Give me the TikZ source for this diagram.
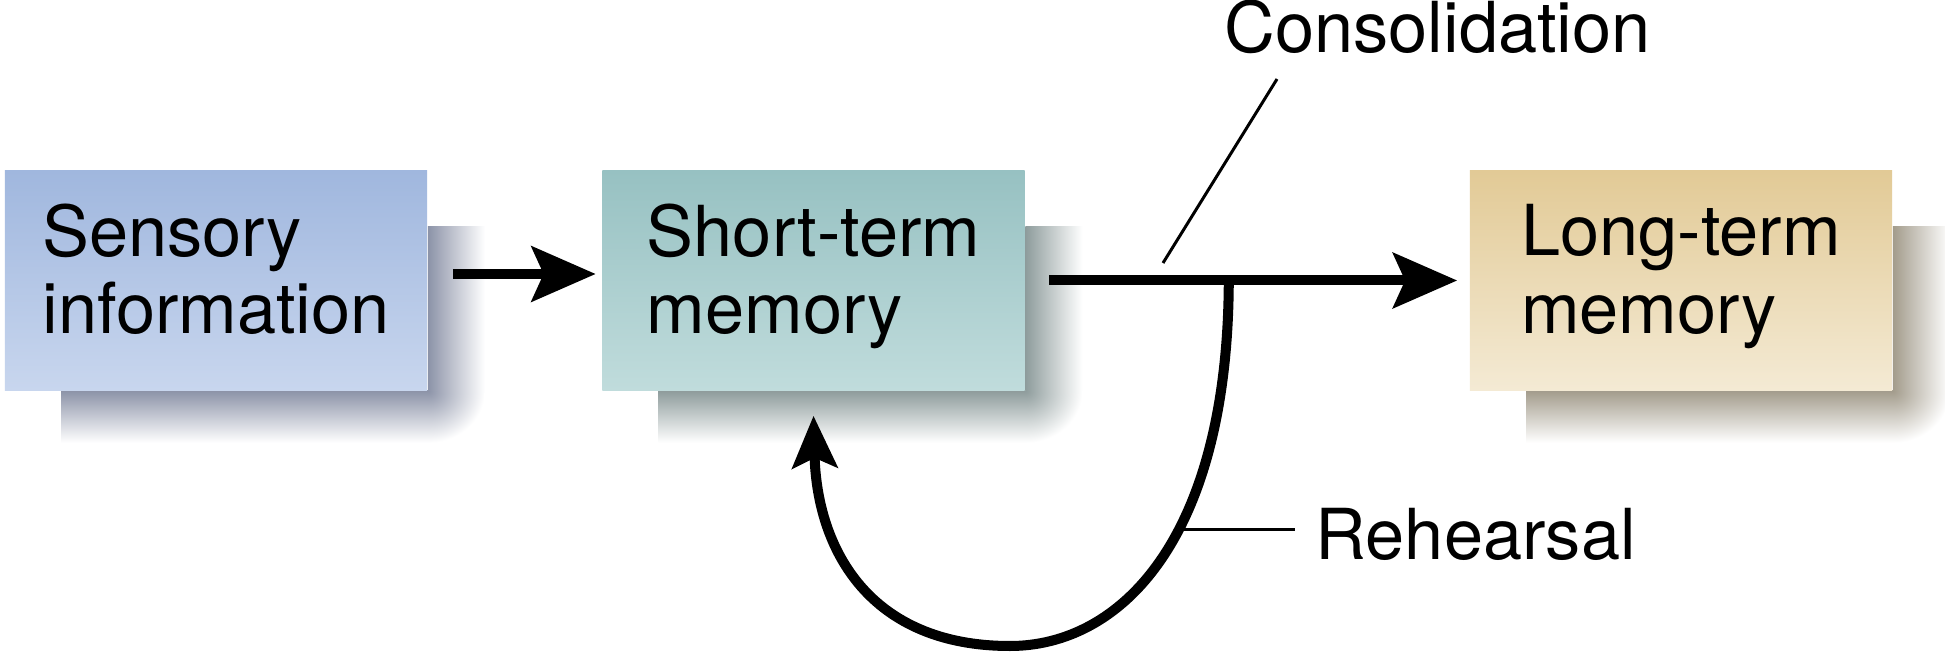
\documentclass[tikz,border=0pt]{standalone}
\usepackage{fontspec}
\setmainfont{TeX Gyre Heros}
\usetikzlibrary{arrows.meta,backgrounds}

\definecolor{sensTop}{HTML}{A0B7DE}
\definecolor{sensBot}{HTML}{C8D6EE}
\definecolor{sensShade}{HTML}{8C93A8}
\definecolor{stmTop}{HTML}{97C1C2}
\definecolor{stmBot}{HTML}{C0DCDC}
\definecolor{stmShade}{HTML}{8E9C9C}
\definecolor{ltmTop}{HTML}{E2CA96}
\definecolor{ltmBot}{HTML}{F4EAD4}
\definecolor{ltmShade}{HTML}{A39C8C}

\tikzset{
  memorybox/.style={minimum width=4.22cm, minimum height=2.19cm, inner sep=0pt, align=left,
    font=\fontsize{20}{22}\selectfont, execute at begin node=\strut, execute at end node=\strut},
  flow/.style={line width=0.1cm, -{Stealth[length=6.4mm,width=5.5mm,inset=1.2mm]}},
  loopback/.style={line width=0.1cm, -{Stealth[length=5.2mm,width=4.5mm,inset=1mm]}},
  leader/.style={line width=0.85pt},
  caption/.style={font=\fontsize{20}{22}\selectfont, inner sep=0pt, anchor=base west},
}

\begin{document}
\begin{tikzpicture}[x=0.01cm, y=-0.01cm]
\useasboundingbox (0,0) rectangle (1945,658);

\node[memorybox, top color=sensTop, bottom color=sensBot] (sens) at (216,280.5) {Sensory\\information};
\node[memorybox, top color=stmTop, bottom color=stmBot] (stm) at (813.5,280.5) {Short-term\\memory};
\node[memorybox, top color=ltmTop, bottom color=ltmBot] (ltm) at (1681,280.5) {Long-term\\memory};

\node[caption] (cons) at (1224,53) {Consolidation};
\node[caption] (reh) at (1315,560) {Rehearsal};
\coordinate (cfoot) at (1163,263);

% drop shadows behind the boxes
\begin{scope}[on background layer]
\fill[white] (0,0) rectangle (1945,658);
\foreach \b/\c in {sens/sensShade, stm/stmShade, ltm/ltmShade} {
  \shade[left color=\c, right color=white] ([yshift=-0.56cm]\b.north east) rectangle ([xshift=0.57cm]\b.south east);
  \shade[top color=\c, bottom color=white] ([xshift=0.57cm]\b.south west) rectangle ([yshift=-0.52cm]\b.south east);
  \begin{scope}
    \clip (\b.south east) rectangle ++(0.57cm,-0.52cm);
    \shade[inner color=\c, outer color=white] (\b.south east) ellipse [x radius=0.57cm, y radius=0.52cm];
  \end{scope}
}
\end{scope}

\draw[flow] ([xshift=0.25cm, yshift=0.065cm]sens.east) -- ([xshift=-0.06cm, yshift=0.065cm]stm.west);
\draw[flow] ([xshift=0.24cm]stm.east) -- ([xshift=-0.12cm]ltm.west) coordinate[pos=0.44] (split);
\draw[loopback] (split) .. controls (1228,540) and (1120,646) .. (1010,646) coordinate[pos=0.42] (rfoot)
  .. controls (870,646) and (817,550) .. ([yshift=-0.25cm]stm.south);

\draw[leader] ([xshift=0.53cm, yshift=-0.26cm]cons.base west) -- (cfoot);
\draw[leader] (rfoot) -- ([xshift=-0.2cm]rfoot -| reh.west);
\end{tikzpicture}
\end{document}
